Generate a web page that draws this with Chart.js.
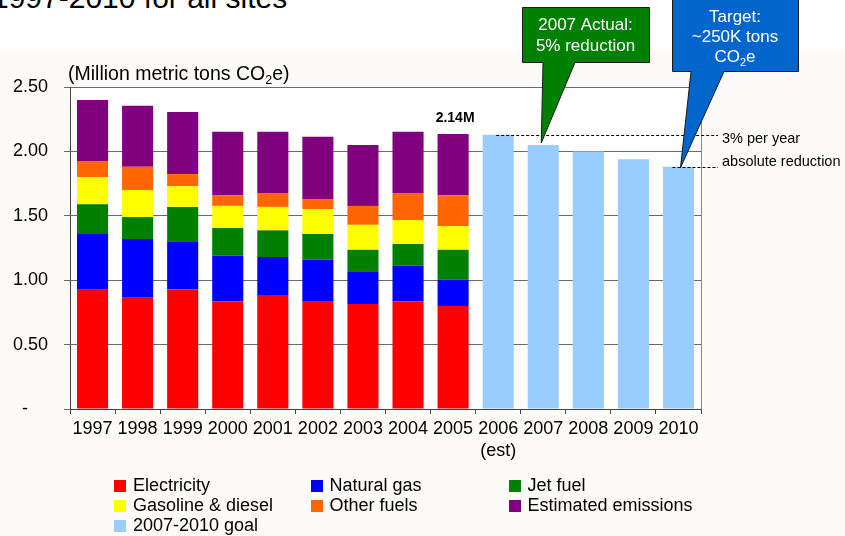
<!DOCTYPE html>
<html lang="en">
<head>
<meta charset="utf-8" />
<title>CO2e emissions 1997-2010 for all sites</title>
<script src="https://cdn.jsdelivr.net/npm/chart.js@4.4.1/dist/chart.umd.min.js"></script>
<style>
  body { margin: 0; background: #fff; font-family: Arial, "Liberation Sans", sans-serif; color: #000; }
  #wrap { position: relative; width: 845px; height: 536px; overflow: hidden; }
  #cream { position: absolute; left: 0; top: 50px; width: 845px; height: 486px; background: #fcfbf7; }
  #title { position: absolute; left: -8px; top: -17px; font-size: 30px; line-height: 1; white-space: nowrap; }
  #ytitle { position: absolute; left: 68px; top: 63px; font-size: 19.5px; line-height: 20px; white-space: nowrap; }
  #ytitle sub { font-size: 12.5px; vertical-align: -4px; line-height: 0; }
  canvas { position: absolute; left: 0; top: 0; }
  .lg { position: absolute; font-size: 18px; line-height: 20px; white-space: nowrap; }
  .lg i { position: absolute; left: -19px; top: 5px; width: 12px; height: 12px; }
</style>
</head>
<body>
<div id="wrap">
  <div id="cream"></div>
  <div id="title">1997-2010 for all sites</div>
  <canvas id="myChart" width="845" height="536"></canvas>
  <div id="ytitle">(Million metric tons CO<sub>2</sub>e)</div>
  <div id="legend"></div>
</div>
<script>
  // million metric tons CO2e
  var years = ["1997", "1998", "1999", "2000", "2001", "2002", "2003", "2004", "2005",
               ["2006", "(est)"], "2007", "2008", "2009", "2010"];
  var electricity = [0.925, 0.863, 0.930, 0.837, 0.885, 0.832, 0.816, 0.837, 0.800, null, null, null, null, null];
  var naturalGas  = [0.440, 0.457, 0.366, 0.353, 0.295, 0.327, 0.254, 0.275, 0.203, null, null, null, null, null];
  var jetFuel     = [0.225, 0.170, 0.273, 0.215, 0.207, 0.200, 0.166, 0.169, 0.233, null, null, null, null, null];
  var gasoline    = [0.210, 0.210, 0.160, 0.172, 0.182, 0.194, 0.194, 0.186, 0.184, null, null, null, null, null];
  var otherFuels  = [0.125, 0.180, 0.095, 0.083, 0.108, 0.078, 0.147, 0.210, 0.240, null, null, null, null, null];
  var estimated   = [0.475, 0.474, 0.482, 0.492, 0.475, 0.482, 0.473, 0.475, 0.476, null, null, null, null, null];
  var goal        = [null, null, null, null, null, null, null, null, null, 2.13, 2.05, 2.00, 1.94, 1.88];
  var yTicks = [0, 0.5, 1.0, 1.5, 2.0, 2.5];

  var seriesNames  = ["Electricity", "Natural gas", "Jet fuel", "Gasoline & diesel", "Other fuels", "Estimated emissions", "2007-2010 goal"];
  var seriesColors = ["#ff0000", "#0000ff", "#008000", "#ffff00", "#ff6600", "#800080", "#99ccff"];
  var seriesData   = [electricity, naturalGas, jetFuel, gasoline, otherFuels, estimated, goal];

  var datasets = seriesData.map(function (d, i) {
    return {
      label: seriesNames[i],
      data: d,
      backgroundColor: seriesColors[i],
      borderWidth: 0,
      categoryPercentage: 1,
      barPercentage: 0.69
    };
  });

  // legend (three columns, like the original)
  var lg = document.getElementById("legend");
  var colX = [133, 329.5, 527.5], rowY = [474.5, 494.5, 514.5];
  seriesNames.forEach(function (name, i) {
    var el = document.createElement("div");
    el.className = "lg";
    el.style.left = colX[i % 3] + "px";
    el.style.top = rowY[Math.floor(i / 3)] + "px";
    el.innerHTML = '<i style="background:' + seriesColors[i] + '"></i>';
    el.appendChild(document.createTextNode(name));
    lg.appendChild(el);
  });

  function drawCallout(ctx, box, baseL, baseR, tip, fill) {
    ctx.save();
    ctx.beginPath();
    ctx.moveTo(box.l, box.t);
    ctx.lineTo(box.r, box.t);
    ctx.lineTo(box.r, box.b);
    ctx.lineTo(baseR, box.b);
    ctx.lineTo(tip.x, tip.y);
    ctx.lineTo(baseL, box.b);
    ctx.lineTo(box.l, box.b);
    ctx.closePath();
    ctx.fillStyle = fill;
    ctx.fill();
    ctx.strokeStyle = "#1a1a1a";
    ctx.lineWidth = 1;
    ctx.stroke();
    ctx.restore();
  }

  function co2e(ctx, cx, y, size) {
    ctx.font = size + "px Arial";
    var w1 = ctx.measureText("CO").width;
    var w3 = ctx.measureText("e").width;
    ctx.font = Math.round(size * 0.65) + "px Arial";
    var w2 = ctx.measureText("2").width;
    var x = cx - (w1 + w2 + w3) / 2;
    ctx.textAlign = "left";
    ctx.font = size + "px Arial";
    ctx.fillText("CO", x, y);
    ctx.font = Math.round(size * 0.65) + "px Arial";
    ctx.fillText("2", x + w1, y + 4);
    ctx.font = size + "px Arial";
    ctx.fillText("e", x + w1 + w2, y);
  }

  var extras = {
    id: "extras",
    beforeDraw: function (chart) {
      var a = chart.chartArea, ctx = chart.ctx;
      ctx.save();
      ctx.fillStyle = "#fff";
      ctx.fillRect(a.left, a.top, a.right - a.left, a.bottom - a.top);
      ctx.restore();
    },
    afterDatasetsDraw: function (chart) {
      var ctx = chart.ctx, a = chart.chartArea;
      var xs = chart.scales.x, ys = chart.scales.y;
      ctx.save();
      // right border of plot area
      ctx.strokeStyle = "#888";
      ctx.lineWidth = 1;
      ctx.beginPath();
      ctx.moveTo(Math.round(a.right) + 0.5, a.top);
      ctx.lineTo(Math.round(a.right) + 0.5, a.bottom);
      ctx.stroke();

      // 2.14M label over 2005
      var tot05 = 0;
      for (var s = 0; s < 6; s++) tot05 += seriesData[s][8];
      ctx.fillStyle = "#000";
      ctx.font = "bold 14px Arial";
      ctx.textAlign = "center";
      ctx.textBaseline = "alphabetic";
      ctx.fillText("2.14M", xs.getPixelForValue(8) + 2, ys.getPixelForValue(tot05) - 12);

      // dashed reduction lines
      var yHi = Math.round(ys.getPixelForValue(goal[9])) + 0.5;
      var yLo = Math.round(ys.getPixelForValue(goal[13])) + 0.5;
      var xEnd = a.right + 17;
      ctx.strokeStyle = "#000";
      ctx.setLineDash([3, 2]);
      ctx.beginPath();
      ctx.moveTo(xs.getPixelForValue(9) - 2, yHi);
      ctx.lineTo(xEnd, yHi);
      ctx.moveTo(xs.getPixelForValue(13) - 6, yLo);
      ctx.lineTo(xEnd, yLo);
      ctx.stroke();
      ctx.setLineDash([]);
      ctx.font = "14.5px Arial";
      ctx.textAlign = "left";
      ctx.fillText("3% per year", xEnd + 4, yHi + 7);
      ctx.fillText("absolute reduction", xEnd + 4, yLo - 2);

      // callouts
      var gTip = { x: xs.getPixelForValue(10) - 2, y: ys.getPixelForValue(goal[10]) - 2 };
      drawCallout(ctx, { l: 522.5, t: 7.5, r: 649.5, b: 62.5 }, 543, 575, gTip, "#008000");
      var bTip = { x: xs.getPixelForValue(13) + 2, y: ys.getPixelForValue(goal[13]) + 1 };
      drawCallout(ctx, { l: 672.5, t: -0.5, r: 798.5, b: 71.5 }, 691, 724, bTip, "#0066cc");

      ctx.fillStyle = "#fff";
      ctx.font = "17px Arial";
      ctx.textAlign = "center";
      ctx.fillText("2007 Actual:", 585.5, 30);
      ctx.fillText("5% reduction", 585.5, 51);
      ctx.fillText("Target:", 735, 21.5);
      ctx.fillText("~250K tons", 735, 41.5);
      co2e(ctx, 735, 61.5, 17);
      ctx.restore();
    }
  };

  function createChart() {
    var ctx = document.getElementById("myChart").getContext("2d");
    new Chart(ctx, {
      type: "bar",
      data: { labels: years, datasets: datasets },
      plugins: [extras],
      options: {
        responsive: false,
        animation: false,
        events: [],
        layout: { padding: { left: 0, top: 87, right: 144, bottom: 0 } },
        plugins: { legend: { display: false }, tooltip: { enabled: false } },
        scales: {
          x: {
            stacked: true,
            grid: { drawOnChartArea: false, tickLength: 5, color: "#444" },
            border: { color: "#444" },
            ticks: {
              color: "#000", autoSkip: false, maxRotation: 0, padding: 4,
              font: { family: "Arial", size: 18, lineHeight: 1.22 }
            },
            afterFit: function (scale) { scale.height = 127; }
          },
          y: {
            stacked: true,
            min: 0, max: 2.5,
            afterBuildTicks: function (scale) {
              scale.ticks = yTicks.map(function (v) { return { value: v }; });
            },
            grid: { color: "#6a6a6a", tickLength: 6 },
            border: { color: "#444" },
            ticks: {
              color: "#000", padding: 16,
              font: { family: "Arial", size: 18 },
              callback: function (v) { return v === 0 ? "-    " : v.toFixed(2); }
            },
            afterFit: function (scale) { scale.width = 70; }
          }
        }
      }
    });
  }

  createChart();
</script>
</body>
</html>
